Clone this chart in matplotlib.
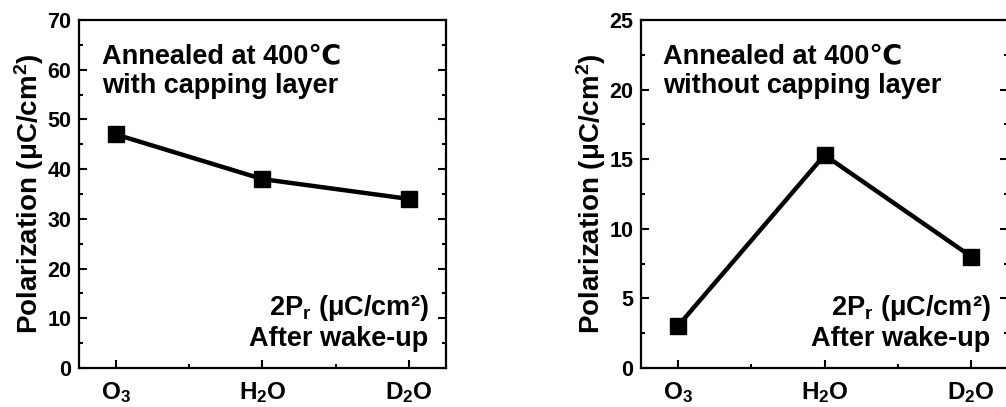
import matplotlib
matplotlib.use('Agg')
import matplotlib.pyplot as plt
from matplotlib.ticker import MultipleLocator

# Data
precursors = ['O$_3$', 'H$_2$O', 'D$_2$O']
pol_capped = [47, 38, 34]
pol_uncapped = [3, 15.3, 8]
titles = ['Annealed at 400\u2103\nwith capping layer',
          'Annealed at 400\u2103\nwithout capping layer']

plt.rcParams['font.family'] = ['Liberation Sans', 'DejaVu Sans']
plt.rcParams['font.weight'] = 'bold'
plt.rcParams['axes.labelweight'] = 'bold'
plt.rcParams['mathtext.fontset'] = 'custom'
plt.rcParams['mathtext.rm'] = 'Liberation Sans:bold'
plt.rcParams['mathtext.it'] = 'Liberation Sans:bold'
plt.rcParams['mathtext.bf'] = 'Liberation Sans:bold'

fig = plt.figure(figsize=(10.06, 4.07), dpi=100)
ax1 = fig.add_axes([0.0785, 0.0958, 0.3648, 0.855])
ax2 = fig.add_axes([0.6372, 0.0958, 0.3648, 0.855])


def style_panel(ax, values, title, ymax, major, tx):
    x = list(range(len(values)))
    ax.plot(x, values, color='black', linewidth=3.2, marker='s',
            markersize=11, zorder=3)
    ax.set_xlim(-0.25, 2.25)
    ax.set_ylim(0, ymax)
    ax.set_xticks(x)
    ax.set_xticklabels(precursors, fontsize=17.5, fontweight='bold')
    ax.xaxis.set_minor_locator(MultipleLocator(0.5))
    yt = list(range(0, ymax + 1, major))
    ax.set_yticks(yt)
    ax.set_yticklabels([str(v) for v in yt], fontsize=15.5, fontweight='bold')
    ax.yaxis.set_minor_locator(MultipleLocator(major / 2))
    ax.tick_params(axis='both', which='both', direction='in',
                   top=False, right=True, width=1.5)
    ax.tick_params(axis='both', which='major', length=6)
    ax.tick_params(axis='both', which='minor', length=3.2)
    ax.tick_params(axis='y', which='major', pad=5.5)
    ax.tick_params(axis='x', which='major', pad=9)
    for s in ax.spines.values():
        s.set_linewidth(1.6)
    ax.set_ylabel('Polarization (\u03bcC/cm$^2$)', fontsize=20,
                  fontweight='bold', labelpad=1)
    ax.text(tx, 0.934, title, transform=ax.transAxes, fontsize=19.5,
            ha='left', va='top', linespacing=1.2)
    ax.text(0.952, 0.151, '2P$_r$ (\u03bcC/cm\u00b2)', transform=ax.transAxes,
            fontsize=19.5, ha='right', va='baseline')
    ax.text(0.952, 0.063, 'After wake-up', transform=ax.transAxes,
            fontsize=19.5, ha='right', va='baseline')


style_panel(ax1, pol_capped, titles[0], 70, 10, 0.063)
style_panel(ax2, pol_uncapped, titles[1], 25, 5, 0.06)

fig.savefig('out.png', dpi=100)
